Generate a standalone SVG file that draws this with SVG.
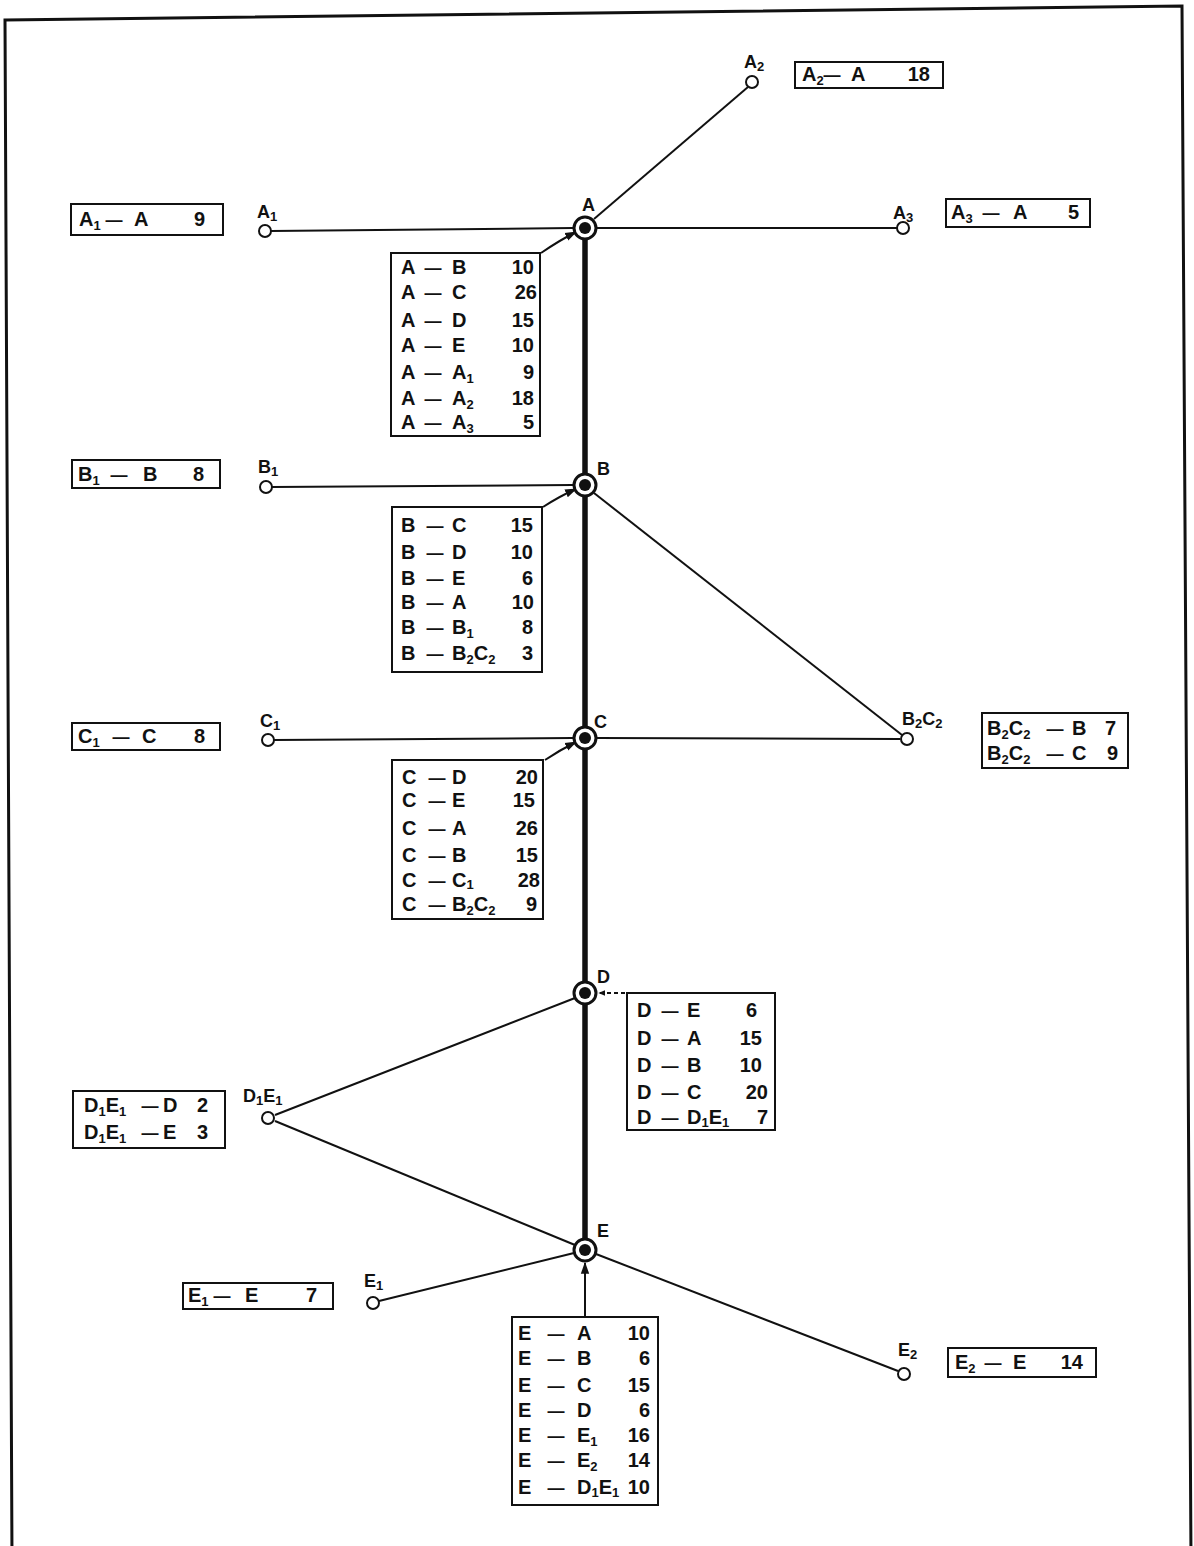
<svg xmlns="http://www.w3.org/2000/svg" width="1194" height="1546" viewBox="0 0 1194 1546">
<style>
.t{font-family:"Liberation Sans",Arial,sans-serif;font-weight:bold;font-size:20px;fill:#111}
.d{font-family:"Liberation Sans",Arial,sans-serif;font-weight:bold;font-size:17px;fill:#111;text-anchor:middle}
.l{font-family:"Liberation Sans",Arial,sans-serif;font-weight:bold;font-size:18px;fill:#111}
.sub{font-size:13px}
.box{fill:none;stroke:#111;stroke-width:2}
.ln{stroke:#111;stroke-width:2;fill:none}
.main{stroke:#111;stroke-width:5.5;fill:none}
.open{fill:#fff;stroke:#111;stroke-width:2}
.ring{fill:#fff;stroke:#111;stroke-width:3}
.dot{fill:#111}
</style>
<defs>
<marker id="ah" viewBox="0 0 10 10" refX="9" refY="5" markerWidth="7" markerHeight="7" orient="auto" markerUnits="userSpaceOnUse">
<path d="M0,1 L10,5 L0,9 z" fill="#111"/>
</marker>
<marker id="ah2" viewBox="0 0 10 10" refX="9" refY="5" markerWidth="12" markerHeight="12" orient="auto" markerUnits="userSpaceOnUse">
<path d="M0,1.5 L10,5 L0,8.5 z" fill="#111"/>
</marker>
</defs>
<rect width="1194" height="1546" fill="#fff"/>
<polygon points="5,20 1182,6 1191,1560 12,1560" fill="none" stroke="#111" stroke-width="3"/>

<g id="connectors">
<line class="main" x1="585" y1="238" x2="585" y2="1240"/>
<line class="ln" x1="271" y1="231" x2="573" y2="228"/>
<line class="ln" x1="597" y1="228" x2="897" y2="228"/>
<line class="ln" x1="594" y1="219" x2="748" y2="87"/>
<line class="ln" x1="272" y1="487" x2="573" y2="485"/>
<line class="ln" x1="594" y1="493" x2="902" y2="735"/>
<line class="ln" x1="274" y1="740" x2="573" y2="738"/>
<line class="ln" x1="597" y1="738" x2="900" y2="739"/>
<line class="ln" x1="575" y1="998" x2="275" y2="1115"/>
<line class="ln" x1="275" y1="1121" x2="575" y2="1245"/>
<line class="ln" x1="379" y1="1301" x2="574" y2="1253"/>
<line class="ln" x1="596" y1="1254" x2="898" y2="1371"/>
<path class="ln" d="M541,253 Q560,240 576,232" stroke-width="1.5" marker-end="url(#ah2)"/>
<path class="ln" d="M543,507 Q560,496 576,489" stroke-width="1.5" marker-end="url(#ah2)"/>
<path class="ln" d="M545,760 Q560,750 576,742" stroke-width="1.5" marker-end="url(#ah2)"/>
<line class="ln" x1="625" y1="993" x2="599" y2="993" stroke-width="1.5" stroke-dasharray="4,3" marker-end="url(#ah)"/>
<line class="ln" x1="585" y1="1317" x2="585" y2="1263" stroke-width="2" marker-end="url(#ah2)"/>
</g>

<g id="node-A"><circle class="ring" cx="585" cy="228" r="11"/><circle class="dot" cx="585" cy="228" r="6"/><text class="l" x="582" y="211">A</text></g>
<g id="node-B"><circle class="ring" cx="585" cy="485" r="11"/><circle class="dot" cx="585" cy="485" r="6"/><text class="l" x="597" y="475">B</text></g>
<g id="node-C"><circle class="ring" cx="585" cy="738" r="11"/><circle class="dot" cx="585" cy="738" r="6"/><text class="l" x="594" y="728">C</text></g>
<g id="node-D"><circle class="ring" cx="585" cy="993" r="11"/><circle class="dot" cx="585" cy="993" r="6"/><text class="l" x="597" y="983">D</text></g>
<g id="node-E"><circle class="ring" cx="585" cy="1250" r="11"/><circle class="dot" cx="585" cy="1250" r="6"/><text class="l" x="597" y="1237">E</text></g>

<g id="node-A1"><circle class="open" cx="265" cy="231" r="6"/><text class="l" x="257" y="218">A<tspan class="sub" dy="3">1</tspan></text></g>
<g id="node-A2"><circle class="open" cx="752" cy="82" r="6"/><text class="l" x="744" y="68">A<tspan class="sub" dy="3">2</tspan></text></g>
<g id="node-A3"><circle class="open" cx="903" cy="228" r="6"/><text class="l" x="893" y="219">A<tspan class="sub" dy="3">3</tspan></text></g>
<g id="node-B1"><circle class="open" cx="266" cy="487" r="6"/><text class="l" x="258" y="473">B<tspan class="sub" dy="3">1</tspan></text></g>
<g id="node-C1"><circle class="open" cx="268" cy="740" r="6"/><text class="l" x="260" y="727">C<tspan class="sub" dy="3">1</tspan></text></g>
<g id="node-B2C2"><circle class="open" cx="907" cy="739" r="6"/><text class="l" x="902" y="725">B<tspan class="sub" dy="3">2</tspan><tspan dy="-3">C</tspan><tspan class="sub" dy="3">2</tspan></text></g>
<g id="node-D1E1"><circle class="open" cx="268" cy="1118" r="6"/><text class="l" x="243" y="1102">D<tspan class="sub" dy="3">1</tspan><tspan dy="-3">E</tspan><tspan class="sub" dy="3">1</tspan></text></g>
<g id="node-E1"><circle class="open" cx="373" cy="1303" r="6"/><text class="l" x="364" y="1287">E<tspan class="sub" dy="3">1</tspan></text></g>
<g id="node-E2"><circle class="open" cx="904" cy="1374" r="6"/><text class="l" x="898" y="1356">E<tspan class="sub" dy="3">2</tspan></text></g>

<g id="label-A2A">
<rect class="box" x="795" y="62" width="148" height="26"/>
<text class="t" x="802" y="81">A<tspan class="sub" dy="4">2</tspan></text>
<text class="d" x="832" y="81">—</text>
<text class="t" x="851" y="81">A</text>
<text class="t" x="930" y="81" text-anchor="end">18</text>
</g>
<g id="label-A1A">
<rect class="box" x="71" y="204" width="152" height="31"/>
<text class="t" x="79" y="226">A<tspan class="sub" dy="4">1</tspan></text>
<text class="d" x="114" y="226">—</text>
<text class="t" x="134" y="226">A</text>
<text class="t" x="205" y="226" text-anchor="end">9</text>
</g>
<g id="label-A3A">
<rect class="box" x="946" y="199" width="144" height="28"/>
<text class="t" x="951" y="219">A<tspan class="sub" dy="4">3</tspan></text>
<text class="d" x="991" y="219">—</text>
<text class="t" x="1013" y="219">A</text>
<text class="t" x="1079" y="219" text-anchor="end">5</text>
</g>
<g id="label-B1B">
<rect class="box" x="72" y="460" width="148" height="28"/>
<text class="t" x="78" y="481">B<tspan class="sub" dy="4">1</tspan></text>
<text class="d" x="119" y="481">—</text>
<text class="t" x="143" y="481">B</text>
<text class="t" x="204" y="481" text-anchor="end">8</text>
</g>
<g id="label-C1C">
<rect class="box" x="72" y="723" width="148" height="27"/>
<text class="t" x="78" y="743">C<tspan class="sub" dy="4">1</tspan></text>
<text class="d" x="121" y="743">—</text>
<text class="t" x="142" y="743">C</text>
<text class="t" x="205" y="743" text-anchor="end">8</text>
</g>
<g id="label-B2C2">
<rect class="box" x="982" y="713" width="146" height="55"/>
<text class="t" x="987" y="735">B<tspan class="sub" dy="4">2</tspan><tspan dy="-4">C</tspan><tspan class="sub" dy="4">2</tspan></text>
<text class="d" x="1055" y="735">—</text>
<text class="t" x="1072" y="735">B</text>
<text class="t" x="1116" y="735" text-anchor="end">7</text>
<text class="t" x="987" y="760">B<tspan class="sub" dy="4">2</tspan><tspan dy="-4">C</tspan><tspan class="sub" dy="4">2</tspan></text>
<text class="d" x="1055" y="760">—</text>
<text class="t" x="1072" y="760">C</text>
<text class="t" x="1118" y="760" text-anchor="end">9</text>
</g>
<g id="label-D1E1">
<rect class="box" x="73" y="1091" width="152" height="57"/>
<text class="t" x="84" y="1112">D<tspan class="sub" dy="4">1</tspan><tspan dy="-4">E</tspan><tspan class="sub" dy="4">1</tspan></text>
<text class="d" x="150" y="1112">—</text>
<text class="t" x="163" y="1112">D</text>
<text class="t" x="208" y="1112" text-anchor="end">2</text>
<text class="t" x="84" y="1139">D<tspan class="sub" dy="4">1</tspan><tspan dy="-4">E</tspan><tspan class="sub" dy="4">1</tspan></text>
<text class="d" x="150" y="1139">—</text>
<text class="t" x="163" y="1139">E</text>
<text class="t" x="208" y="1139" text-anchor="end">3</text>
</g>
<g id="label-E1E">
<rect class="box" x="183" y="1283" width="150" height="26"/>
<text class="t" x="188" y="1302">E<tspan class="sub" dy="4">1</tspan></text>
<text class="d" x="222" y="1302">—</text>
<text class="t" x="245" y="1302">E</text>
<text class="t" x="317" y="1302" text-anchor="end">7</text>
</g>
<g id="label-E2E">
<rect class="box" x="948" y="1348" width="148" height="29"/>
<text class="t" x="955" y="1369">E<tspan class="sub" dy="4">2</tspan></text>
<text class="d" x="993" y="1369">—</text>
<text class="t" x="1013" y="1369">E</text>
<text class="t" x="1083" y="1369" text-anchor="end">14</text>
</g>

<g id="table-A">
<rect class="box" x="391" y="253" width="149" height="183"/>
<text class="t" x="401" y="274">A</text><text class="d" x="433" y="274">—</text><text class="t" x="452" y="274">B</text><text class="t" x="534" y="274" text-anchor="end">10</text>
<text class="t" x="401" y="299">A</text><text class="d" x="433" y="299">—</text><text class="t" x="452" y="299">C</text><text class="t" x="537" y="299" text-anchor="end">26</text>
<text class="t" x="401" y="327">A</text><text class="d" x="433" y="327">—</text><text class="t" x="452" y="327">D</text><text class="t" x="534" y="327" text-anchor="end">15</text>
<text class="t" x="401" y="352">A</text><text class="d" x="433" y="352">—</text><text class="t" x="452" y="352">E</text><text class="t" x="534" y="352" text-anchor="end">10</text>
<text class="t" x="401" y="379">A</text><text class="d" x="433" y="379">—</text><text class="t" x="452" y="379">A<tspan class="sub" dy="4">1</tspan></text><text class="t" x="534" y="379" text-anchor="end">9</text>
<text class="t" x="401" y="405">A</text><text class="d" x="433" y="405">—</text><text class="t" x="452" y="405">A<tspan class="sub" dy="4">2</tspan></text><text class="t" x="534" y="405" text-anchor="end">18</text>
<text class="t" x="401" y="429">A</text><text class="d" x="433" y="429">—</text><text class="t" x="452" y="429">A<tspan class="sub" dy="4">3</tspan></text><text class="t" x="534" y="429" text-anchor="end">5</text>
</g>
<g id="table-B">
<rect class="box" x="392" y="507" width="150" height="165"/>
<text class="t" x="401" y="532">B</text><text class="d" x="435" y="532">—</text><text class="t" x="452" y="532">C</text><text class="t" x="533" y="532" text-anchor="end">15</text>
<text class="t" x="401" y="559">B</text><text class="d" x="435" y="559">—</text><text class="t" x="452" y="559">D</text><text class="t" x="533" y="559" text-anchor="end">10</text>
<text class="t" x="401" y="585">B</text><text class="d" x="435" y="585">—</text><text class="t" x="452" y="585">E</text><text class="t" x="533" y="585" text-anchor="end">6</text>
<text class="t" x="401" y="609">B</text><text class="d" x="435" y="609">—</text><text class="t" x="452" y="609">A</text><text class="t" x="534" y="609" text-anchor="end">10</text>
<text class="t" x="401" y="634">B</text><text class="d" x="435" y="634">—</text><text class="t" x="452" y="634">B<tspan class="sub" dy="4">1</tspan></text><text class="t" x="533" y="634" text-anchor="end">8</text>
<text class="t" x="401" y="660">B</text><text class="d" x="435" y="660">—</text><text class="t" x="452" y="660">B<tspan class="sub" dy="4">2</tspan><tspan dy="-4">C</tspan><tspan class="sub" dy="4">2</tspan></text><text class="t" x="533" y="660" text-anchor="end">3</text>
</g>
<g id="table-C">
<rect class="box" x="392" y="760" width="151" height="159"/>
<text class="t" x="402" y="784">C</text><text class="d" x="437" y="784">—</text><text class="t" x="452" y="784">D</text><text class="t" x="538" y="784" text-anchor="end">20</text>
<text class="t" x="402" y="807">C</text><text class="d" x="437" y="807">—</text><text class="t" x="452" y="807">E</text><text class="t" x="535" y="807" text-anchor="end">15</text>
<text class="t" x="402" y="835">C</text><text class="d" x="437" y="835">—</text><text class="t" x="452" y="835">A</text><text class="t" x="538" y="835" text-anchor="end">26</text>
<text class="t" x="402" y="862">C</text><text class="d" x="437" y="862">—</text><text class="t" x="452" y="862">B</text><text class="t" x="538" y="862" text-anchor="end">15</text>
<text class="t" x="402" y="887">C</text><text class="d" x="437" y="887">—</text><text class="t" x="452" y="887">C<tspan class="sub" dy="2">1</tspan></text><text class="t" x="540" y="887" text-anchor="end">28</text>
<text class="t" x="402" y="911">C</text><text class="d" x="437" y="911">—</text><text class="t" x="452" y="911">B<tspan class="sub" dy="4">2</tspan><tspan dy="-4">C</tspan><tspan class="sub" dy="4">2</tspan></text><text class="t" x="537" y="911" text-anchor="end">9</text>
</g>
<g id="table-D">
<rect class="box" x="627" y="993" width="148" height="137"/>
<text class="t" x="637" y="1017">D</text><text class="d" x="670" y="1017">—</text><text class="t" x="687" y="1017">E</text><text class="t" x="757" y="1017" text-anchor="end">6</text>
<text class="t" x="637" y="1045">D</text><text class="d" x="670" y="1045">—</text><text class="t" x="687" y="1045">A</text><text class="t" x="762" y="1045" text-anchor="end">15</text>
<text class="t" x="637" y="1072">D</text><text class="d" x="670" y="1072">—</text><text class="t" x="687" y="1072">B</text><text class="t" x="762" y="1072" text-anchor="end">10</text>
<text class="t" x="637" y="1099">D</text><text class="d" x="670" y="1099">—</text><text class="t" x="687" y="1099">C</text><text class="t" x="768" y="1099" text-anchor="end">20</text>
<text class="t" x="637" y="1124">D</text><text class="d" x="670" y="1124">—</text><text class="t" x="687" y="1124">D<tspan class="sub" dy="3">1</tspan><tspan dy="-3">E</tspan><tspan class="sub" dy="3">1</tspan></text><text class="t" x="768" y="1124" text-anchor="end">7</text>
</g>
<g id="table-E">
<rect class="box" x="512" y="1317" width="146" height="188"/>
<text class="t" x="518" y="1340">E</text><text class="d" x="556" y="1340">—</text><text class="t" x="577" y="1340">A</text><text class="t" x="650" y="1340" text-anchor="end">10</text>
<text class="t" x="518" y="1365">E</text><text class="d" x="556" y="1365">—</text><text class="t" x="577" y="1365">B</text><text class="t" x="650" y="1365" text-anchor="end">6</text>
<text class="t" x="518" y="1392">E</text><text class="d" x="556" y="1392">—</text><text class="t" x="577" y="1392">C</text><text class="t" x="650" y="1392" text-anchor="end">15</text>
<text class="t" x="518" y="1417">E</text><text class="d" x="556" y="1417">—</text><text class="t" x="577" y="1417">D</text><text class="t" x="650" y="1417" text-anchor="end">6</text>
<text class="t" x="518" y="1442">E</text><text class="d" x="556" y="1442">—</text><text class="t" x="577" y="1442">E<tspan class="sub" dy="4">1</tspan></text><text class="t" x="650" y="1442" text-anchor="end">16</text>
<text class="t" x="518" y="1467">E</text><text class="d" x="556" y="1467">—</text><text class="t" x="577" y="1467">E<tspan class="sub" dy="4">2</tspan></text><text class="t" x="650" y="1467" text-anchor="end">14</text>
<text class="t" x="518" y="1494">E</text><text class="d" x="556" y="1494">—</text><text class="t" x="577" y="1494">D<tspan class="sub" dy="3">1</tspan><tspan dy="-3">E</tspan><tspan class="sub" dy="3">1</tspan></text><text class="t" x="650" y="1494" text-anchor="end">10</text>
</g>
</svg>
